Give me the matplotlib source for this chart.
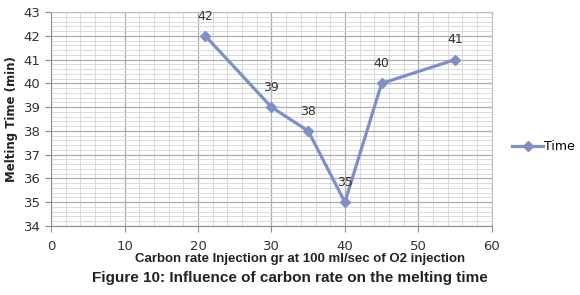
import matplotlib.pyplot as plt
from matplotlib.ticker import MultipleLocator

# 数据
carbon_rate = [21, 30, 35, 40, 45, 55]
melt_time = [42, 39, 38, 35, 40, 41]
point_labels = ["42", "39", "38", "35", "40", "41"]

line_color = "#7F90C9"

fig = plt.figure(figsize=(5.8, 2.95), dpi=100)
ax = fig.add_axes([0.088, 0.234, 0.760, 0.725])

ax.plot(carbon_rate, melt_time, color=line_color, linewidth=2.3,
        marker="D", markersize=5.5, label="Time", zorder=3)

for x, y, s in zip(carbon_rate, melt_time, point_labels):
    ax.annotate(s, (x, y), xytext=(0, 9.5), textcoords="offset points",
                ha="center", va="bottom", fontsize=9, color="#333333")

ax.set_xlim(0, 60)
ax.set_ylim(34, 43)
ax.xaxis.set_major_locator(MultipleLocator(10))
ax.xaxis.set_minor_locator(MultipleLocator(2))
ax.yaxis.set_major_locator(MultipleLocator(1))
ax.yaxis.set_minor_locator(MultipleLocator(0.2))

ax.grid(True, which="major", color="#ADADAD", linewidth=0.9)
ax.grid(True, which="minor", color="#D6D6D6", linewidth=0.6)
ax.set_axisbelow(True)

for side in ["top", "right"]:
    ax.spines[side].set_color("#BFBFBF")
for side in ["left", "bottom"]:
    ax.spines[side].set_color("#8C8C8C")

ax.tick_params(which="major", length=4, color="#8C8C8C", labelsize=9.5,
               labelcolor="#333333")
ax.tick_params(axis="x", which="major", pad=6)
ax.tick_params(which="minor", length=0)

ax.set_xlabel("Carbon rate Injection gr at 100 ml/sec of O2 injection",
              fontsize=9.5, fontweight="bold", color="#222222",
              family="Liberation Sans")
ax.xaxis.set_label_coords(0.565, -0.128)
ax.set_ylabel("Melting Time (min)", fontsize=8.5, fontweight="bold",
              labelpad=4, color="#222222")

ax.legend(loc="center left", bbox_to_anchor=(1.02, 0.37), frameon=False,
          fontsize=9, handlelength=2.5, handletextpad=0.1)

fig.text(0.5, 0.058, "Figure 10: Influence of carbon rate on the melting time",
         ha="center", va="center", fontsize=11, fontweight="bold",
         family="Liberation Sans", color="#222222")

fig.savefig("out.png", dpi=100)
